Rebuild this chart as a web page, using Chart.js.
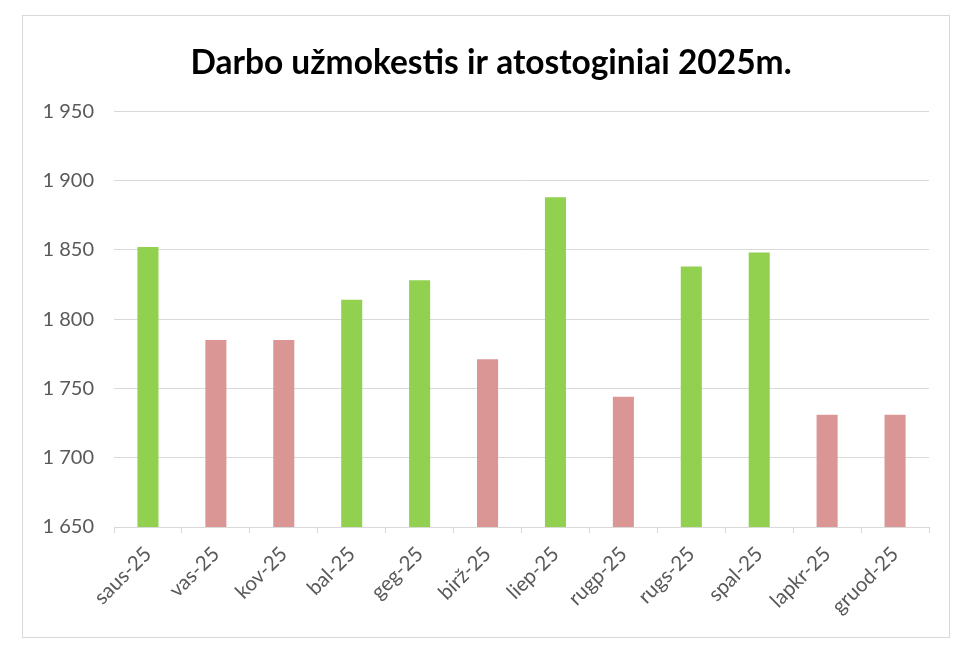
<!DOCTYPE html>
<html>
<head>
<meta charset="utf-8">
<script src="https://cdn.jsdelivr.net/npm/chart.js@4/dist/chart.umd.min.js"></script>
<style>
  html, body { margin: 0; padding: 0; background: #ffffff; }
  #frame { position: absolute; left: 22px; top: 15px; width: 926px; height: 621px; border: 1px solid #d9d9d9; background: #fff; }
  #c { display: block; }
</style>
</head>
<body>
<div id="frame"><canvas id="c" width="926" height="621"></canvas></div>
<script>
const chartTitle = 'Darbo užmokestis ir atostoginiai 2025m.';
const categories = ['saus-25','vas-25','kov-25','bal-25','geg-25','birž-25','liep-25','rugp-25','rugs-25','spal-25','lapkr-25','gruod-25'];
const values = [1852, 1785, 1785, 1814, 1828, 1771, 1888, 1744, 1838, 1848, 1731, 1731];
const barKinds = ['g','r','r','g','g','r','g','r','g','g','r','r'];
const yMin = 1650, yMax = 1950, yStep = 50;

const GREEN = '#92D050', PINK = '#D99694';
const FONT = 'Lato, "Open Sans", sans-serif';

const titleShift = {
  id: 'titleShift',
  afterLayout(chart) {
    const tb = chart.titleBlock;
    if (tb) { tb.left += 15; tb.right += 15; }
  }
};

new Chart(document.getElementById('c'), {
  type: 'bar',
  plugins: [titleShift],
  data: {
    labels: categories,
    datasets: [{
      data: values,
      backgroundColor: barKinds.map(k => k === 'g' ? GREEN : PINK),
      categoryPercentage: 1.0,
      barPercentage: 0.31
    }]
  },
  options: {
    responsive: false,
    animation: false,
    layout: { padding: { left: 0, right: 20, top: 0, bottom: 0 } },
    plugins: {
      legend: { display: false },
      tooltip: { enabled: false },
      title: {
        display: true,
        text: chartTitle,
        color: '#000000',
        font: { family: FONT, size: 33.5, weight: 'bold' },
        padding: { top: 27, bottom: 28 }
      }
    },
    scales: {
      y: {
        min: yMin, max: yMax,
        afterFit: s => { s.width = 91; },
        border: { display: false },
        grid: { color: '#d9d9d9', lineWidth: 1, drawTicks: false },
        ticks: {
          stepSize: yStep,
          padding: 20,
          color: '#595959',
          font: { family: FONT, size: 20 },
          callback: v => String(v).replace(/\B(?=(\d{3})+(?!\d))/g, ' ')
        }
      },
      x: {
        afterFit: s => { s.height = 110; },
        border: { display: true, color: '#d9d9d9', width: 1 },
        grid: { drawOnChartArea: false, drawTicks: true, tickLength: 6, color: '#d9d9d9', offset: true },
        ticks: {
          minRotation: 45, maxRotation: 45,
          autoSkip: false,
          padding: 9,
          color: '#595959',
          font: { family: FONT, size: 20.5 }
        }
      }
    }
  }
});
</script>
</body>
</html>
